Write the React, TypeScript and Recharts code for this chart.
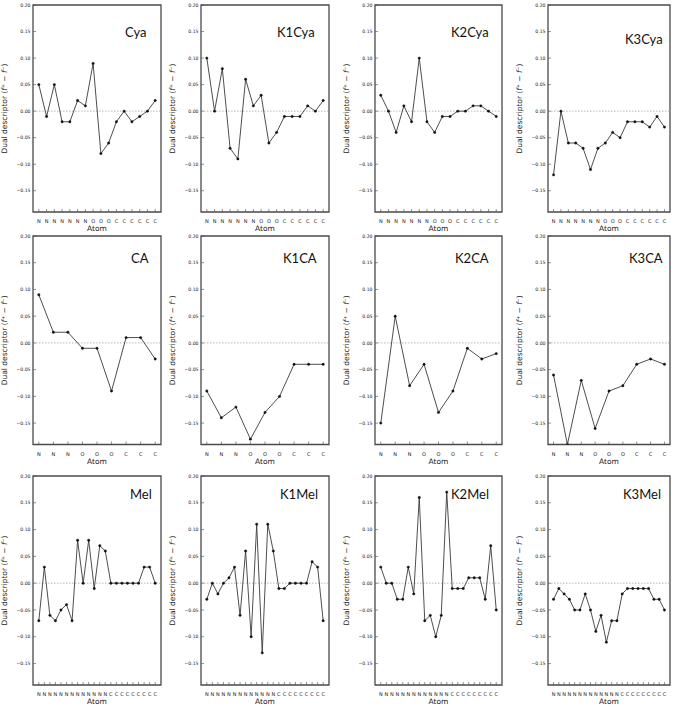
import React from "react";
import { LineChart, Line, XAxis, YAxis, ReferenceLine, ReferenceArea } from "recharts";

// atom labels
const cyaAtoms = ["N", "N", "N", "N", "N", "N", "N", "O", "O", "O", "C", "C", "C", "C", "C", "C"];
const caAtoms = ["N", "N", "N", "O", "O", "O", "C", "C", "C"];
const melAtoms = [
  "N", "N", "N", "N", "N", "N", "N", "N", "N", "N", "N", "N", "N",
  "C", "C", "C", "C", "C", "C", "C", "C", "C",
];

// dual descriptor values (f+ - f-)
const cyaValues = [0.05, -0.01, 0.05, -0.02, -0.02, 0.02, 0.01, 0.09, -0.08, -0.06, -0.02, 0.0, -0.02, -0.01, 0.0, 0.02];
const k1CyaValues = [0.1, 0.0, 0.08, -0.07, -0.09, 0.06, 0.01, 0.03, -0.06, -0.04, -0.01, -0.01, -0.01, 0.01, 0.0, 0.02];
const k2CyaValues = [0.03, 0.0, -0.04, 0.01, -0.02, 0.1, -0.02, -0.04, -0.01, -0.01, 0.0, 0.0, 0.01, 0.01, 0.0, -0.01];
const k3CyaValues = [-0.12, 0.0, -0.06, -0.06, -0.07, -0.11, -0.07, -0.06, -0.04, -0.05, -0.02, -0.02, -0.02, -0.03, -0.01, -0.03];

const caValues = [0.09, 0.02, 0.02, -0.01, -0.01, -0.09, 0.01, 0.01, -0.03];
const k1CaValues = [-0.09, -0.14, -0.12, -0.18, -0.13, -0.1, -0.04, -0.04, -0.04];
const k2CaValues = [-0.15, 0.05, -0.08, -0.04, -0.13, -0.09, -0.01, -0.03, -0.02];
const k3CaValues = [-0.06, -0.19, -0.07, -0.16, -0.09, -0.08, -0.04, -0.03, -0.04];

const melValues = [-0.07, 0.03, -0.06, -0.07, -0.05, -0.04, -0.07, 0.08, 0.0, 0.08, -0.01, 0.07, 0.06, 0.0, 0.0, 0.0, 0.0, 0.0, 0.0, 0.03, 0.03, 0.0];
const k1MelValues = [-0.03, 0.0, -0.02, 0.0, 0.01, 0.03, -0.06, 0.06, -0.1, 0.11, -0.13, 0.11, 0.06, -0.01, -0.01, 0.0, 0.0, 0.0, 0.0, 0.04, 0.03, -0.07];
const k2MelValues = [0.03, 0.0, 0.0, -0.03, -0.03, 0.03, -0.02, 0.16, -0.07, -0.06, -0.1, -0.06, 0.17, -0.01, -0.01, -0.01, 0.01, 0.01, 0.01, -0.03, 0.07, -0.05];
const k3MelValues = [-0.03, -0.01, -0.02, -0.03, -0.05, -0.05, -0.02, -0.05, -0.09, -0.06, -0.11, -0.07, -0.07, -0.02, -0.01, -0.01, -0.01, -0.01, -0.01, -0.03, -0.03, -0.05];

const yTicks = [-0.15, -0.1, -0.05, 0, 0.05, 0.1, 0.15, 0.2];
const Y_DOMAIN: [number, number] = [-0.19, 0.2];

const panels = [
  { title: "Cya", atoms: cyaAtoms, values: cyaValues },
  { title: "K1Cya", atoms: cyaAtoms, values: k1CyaValues },
  { title: "K2Cya", atoms: cyaAtoms, values: k2CyaValues },
  { title: "K3Cya", atoms: cyaAtoms, values: k3CyaValues },
  { title: "CA", atoms: caAtoms, values: caValues },
  { title: "K1CA", atoms: caAtoms, values: k1CaValues },
  { title: "K2CA", atoms: caAtoms, values: k2CaValues },
  { title: "K3CA", atoms: caAtoms, values: k3CaValues },
  { title: "Mel", atoms: melAtoms, values: melValues },
  { title: "K1Mel", atoms: melAtoms, values: k1MelValues },
  { title: "K2Mel", atoms: melAtoms, values: k2MelValues },
  { title: "K3Mel", atoms: melAtoms, values: k3MelValues },
];

// layout (frame of each plot area)
const cols = [
  { left: 33, width: 128 },
  { left: 201, width: 128 },
  { left: 375, width: 127 },
  { left: 548, width: 122 },
];
const rows = [
  { top: 5, height: 207 },
  { top: 235.5, height: 208.5 },
  { top: 476, height: 209 },
];
// title offset from the frame's top-left corner
const titleOffsets = [
  [92, 32], [76, 31.5], [76, 31.5], [77, 38.5],
  [98, 27], [82, 27], [80, 27], [81, 27],
  [97, 23], [79, 23], [76, 23], [75, 23],
];

const FRAME = "#4a4a4a";
const TICK_FONT = "'DejaVu Sans', sans-serif";
const AXIS_W = 33;
const TOP = 6;
const BOTTOM = 26;
const RIGHT = 3;

const fmt = (v: number) => (v < 0 ? "\u2212" + Math.abs(v).toFixed(2) : v.toFixed(2));

const XTick = ({ x, y, payload, atoms }: any) => (
  <g>
    <line x1={x} x2={x} y1={y} y2={y - 3} stroke={FRAME} strokeWidth={0.6} />
    <text x={x} y={y + 11} textAnchor="middle" fontSize={5} fontFamily={TICK_FONT} fill="#222">
      {atoms[payload.value]}
    </text>
  </g>
);

const YTick = ({ x, y, payload }: any) => (
  <g>
    <line x1={x} x2={x + 3} y1={y} y2={y} stroke={FRAME} strokeWidth={0.6} />
    <text x={x - 2.5} y={y} dy="0.35em" textAnchor="end" fontSize={4.6} fontFamily={TICK_FONT} fill="#222">
      {fmt(payload.value)}
    </text>
  </g>
);

const XLabel = ({ viewBox }: any) => (
  <text
    x={viewBox.x + viewBox.width / 2}
    y={viewBox.y + 19}
    textAnchor="middle"
    fontSize={7.5}
    fontFamily={TICK_FONT}
    fill="#222"
  >
    Atom
  </text>
);

const YLabel = ({ viewBox }: any) => {
  const cx = viewBox.x + 4;
  const cy = viewBox.y + viewBox.height / 2;
  return (
    <text
      x={cx}
      y={cy}
      transform={`rotate(-90 ${cx} ${cy})`}
      textAnchor="middle"
      dominantBaseline="central"
      fontSize={7.5}
      fontFamily={TICK_FONT}
      fill="#222"
    >
      Dual descriptor (<tspan fontStyle="italic">f</tspan>
      {"\u207A \u2212 "}
      <tspan fontStyle="italic">f</tspan>
      {"\u207B)"}
    </text>
  );
};

const TitleLabel = ({ viewBox, title, dx, dy }: any) => (
  <text x={viewBox.x + dx} y={viewBox.y + dy} fontSize={13} fontFamily="Lato, 'Open Sans', sans-serif" fill="#111">
    {title}
  </text>
);

function Panel({ index }: { index: number }) {
  const p = panels[index];
  const col = cols[index % 4];
  const row = rows[Math.floor(index / 4)];
  const [dx, dy] = titleOffsets[index];
  const data = p.values.map((v, i) => ({ i, v }));
  const n = p.atoms.length - 1;
  const pad = n * 0.05;
  const xDomain: [number, number] = [-pad, n + pad];
  const xTicks = p.atoms.map((_, i) => i);

  return (
    <div style={{ position: "absolute", left: col.left - AXIS_W, top: row.top - TOP }}>
      <LineChart
        width={AXIS_W + col.width + RIGHT}
        height={TOP + row.height + BOTTOM}
        data={data}
        margin={{ top: TOP, right: RIGHT, bottom: 0, left: 0 }}
      >
        <XAxis
          dataKey="i"
          type="number"
          domain={xDomain}
          ticks={xTicks}
          interval={0}
          allowDataOverflow
          height={BOTTOM}
          tickSize={0}
          tickMargin={0}
          tickLine={false}
          axisLine={false}
          tick={<XTick atoms={p.atoms} />}
          label={<XLabel />}
        />
        <YAxis
          type="number"
          domain={Y_DOMAIN}
          ticks={yTicks}
          interval={0}
          allowDataOverflow
          width={AXIS_W}
          tickSize={0}
          tickMargin={0}
          tickLine={false}
          axisLine={false}
          tick={<YTick />}
          label={<YLabel />}
        />
        <ReferenceArea
          x1={xDomain[0]}
          x2={xDomain[1]}
          y1={Y_DOMAIN[0]}
          y2={Y_DOMAIN[1]}
          fill="none"
          stroke={FRAME}
          strokeWidth={1.3}
          ifOverflow="visible"
          label={<TitleLabel title={p.title} dx={dx} dy={dy} />}
        />
        <ReferenceLine y={0} stroke="#9a9a9a" strokeWidth={0.7} strokeDasharray="1.5 1.5" />
        <Line
          dataKey="v"
          type="linear"
          stroke="#3a3a3a"
          strokeWidth={0.9}
          dot={{ r: 1.2, fill: "#111", stroke: "#111", strokeWidth: 0.4 }}
          isAnimationActive={false}
        />
      </LineChart>
    </div>
  );
}

export default function App() {
  return (
    <div style={{ position: "absolute", left: 0, top: 0, width: 676, height: 706, background: "#fff" }}>
      {panels.map((p, i) => (
        <Panel key={p.title} index={i} />
      ))}
    </div>
  );
}
